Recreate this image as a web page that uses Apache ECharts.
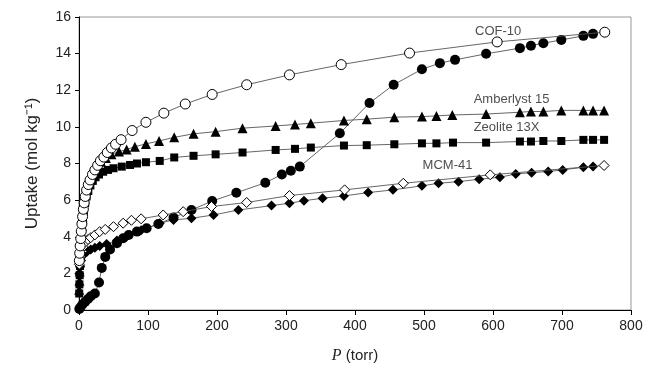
<!DOCTYPE html>
<html>
<head>
<meta charset="utf-8">
<style>html,body{margin:0;padding:0;width:649px;height:377px;background:#fff;overflow:hidden;}#chart{width:649px;height:377px;}</style>
<script src="https://cdn.jsdelivr.net/npm/echarts@6/dist/echarts.min.js"></script>
</head>
<body>
<div id="chart"></div>
<script>
// pressure (torr), uptake (mol/kg)
var cof10Open = [[0.5,2.7],[1,3.1],[1.7,3.5],[2.5,3.9],[3.3,4.3],[4.2,4.7],[5.2,5.1],[6.3,5.5],[7.5,5.85],[9,6.2],[11,6.55],[13.5,6.85],[16,7.1],[19.5,7.4],[23,7.65],[27,7.9],[31,8.15],[36,8.35],[41,8.6],[47,8.85],[53,9.05],[61,9.3],[77,9.8],[97,10.25],[123,10.75],[154,11.25],[193,11.77],[243,12.3],[305,12.84],[380,13.4],[479,14.03],[606,14.64],[762,15.17]];
var cof10Filled = [[0.5,0.05],[2,0.15],[5,0.3],[9,0.45],[13,0.6],[17,0.75],[23,0.9],[29,1.5],[33,2.3],[38,2.9],[45,3.3],[55,3.65],[64,3.92],[72,4.1],[84,4.28],[98,4.46],[115,4.7],[137,5.05],[163,5.46],[193,5.95],[228,6.4],[270,6.95],[294,7.4],[307,7.6],[320,7.83],[378,9.65],[421,11.3],[456,12.3],[497,13.15],[523,13.48],[545,13.66],[590,13.99],[639,14.3],[655,14.43],[673,14.57],[699,14.75],[731,14.97],[745,15.08]];
var amberlyst = [[0.3,1.1],[0.6,1.6],[1,2.1],[1.5,2.6],[2,3.1],[2.5,3.6],[3.2,4.1],[4,4.6],[5,5.1],[6,5.5],[7.5,5.9],[9,6.3],[11,6.7],[14,7.05],[17,7.35],[21,7.6],[26,7.85],[32,8.1],[39,8.3],[47,8.5],[58,8.65],[69,8.76],[81,8.92],[97,9.07],[116,9.23],[138,9.43],[166,9.62],[198,9.74],[237,9.93],[285,10.05],[313,10.13],[336,10.2],[384,10.35],[417,10.42],[457,10.53],[497,10.56],[518,10.6],[541,10.65],[590,10.7],[639,10.8],[655,10.84],[673,10.84],[699,10.9],[731,10.9],[745,10.9],[761,10.9]];
var zeolite = [[0.3,0.9],[0.6,1.4],[1,1.9],[1.5,2.4],[2,2.9],[2.7,3.4],[3.5,3.9],[4.5,4.4],[5.5,4.9],[7,5.4],[9,5.85],[11,6.2],[13.5,6.5],[16.5,6.8],[20,7.05],[24,7.25],[29,7.4],[35,7.55],[42,7.65],[50,7.74],[62,7.83],[74,7.92],[84,8.0],[97,8.07],[117,8.14],[138,8.33],[166,8.42],[198,8.5],[237,8.6],[285,8.74],[313,8.8],[336,8.87],[384,8.98],[417,9.0],[457,9.05],[497,9.1],[518,9.1],[542,9.14],[590,9.14],[639,9.2],[655,9.2],[673,9.23],[699,9.23],[731,9.29],[745,9.29],[761,9.29]];
var mcmOpen = [[0.5,2.5],[2,2.9],[4,3.2],[6,3.45],[9,3.7],[13,3.85],[17,3.95],[23,4.1],[30,4.28],[38,4.4],[50,4.55],[64,4.74],[76,4.9],[90,4.98],[122,5.19],[151,5.37],[192,5.65],[243,5.87],[305,6.25],[385,6.56],[470,6.92],[596,7.38],[761,7.89]];
var mcmFilled = [[0.5,2.0],[1.5,2.4],[3,2.7],[5,2.95],[8,3.1],[12,3.2],[17,3.3],[23,3.4],[30,3.5],[40,3.6],[55,3.8],[70,4.05],[90,4.35],[117,4.74],[137,4.92],[163,5.01],[195,5.19],[231,5.46],[279,5.7],[305,5.83],[326,5.97],[353,6.1],[384,6.23],[419,6.41],[455,6.56],[497,6.78],[521,6.92],[550,7.01],[580,7.14],[610,7.25],[633,7.43],[656,7.5],[680,7.56],[701,7.65],[731,7.8],[745,7.83]];

var curveNames = ['COF-10', 'Amberlyst 15', 'Zeolite 13X', 'MCM-41'];
var curveLabelAt = [[574,15.2],[572,11.5],[572,9.95],[498,7.88]];
var xTicks = [0,100,200,300,400,500,600,700,800];
var yTicks = [0,2,4,6,8,10,12,14,16];

var FONT = '"Liberation Sans", Arial, sans-serif';
var chart = echarts.init(document.getElementById('chart'), null, {renderer: 'canvas'});

function curve(name, data, symbol, size, open) {
  return {
    name: name,
    type: 'line',
    data: data,
    symbol: symbol,
    symbolSize: size,
    showAllSymbol: true,
    animation: false,
    lineStyle: {color: '#555', width: 0.9},
    itemStyle: open
      ? {color: '#fff', borderColor: '#000', borderWidth: 1}
      : {color: '#000', borderColor: '#000', borderWidth: 0},
    z: open ? 3 : 2
  };
}

var series = [
  curve('COF-10 filled', cof10Filled, 'circle', 10, false),
  curve('Amberlyst 15', amberlyst, 'triangle', 10, false),
  curve('Zeolite 13X', zeolite, 'rect', 8, false),
  curve('MCM-41 filled', mcmFilled, 'diamond', 10, false),
  curve('MCM-41 open', mcmOpen, 'diamond', 10, true),
  curve('COF-10 open', cof10Open, 'circle', 10, true)
];

// curve names written next to the curves
series.push({
  type: 'scatter',
  silent: true,
  symbolSize: 0,
  data: curveLabelAt.map(function (p, i) { return {value: p, name: curveNames[i]}; }),
  label: {
    show: true,
    position: 'right',
    distance: 0,
    formatter: function (p) { return p.name; },
    color: '#222',
    fontSize: 13,
    fontFamily: FONT
  },
  z: 5
});

chart.setOption({
  backgroundColor: '#fff',
  animation: false,
  grid: {left: 79, right: 18, top: 17, bottom: 67, show: true, borderColor: '#999', borderWidth: 1},
  xAxis: {
    type: 'value', min: 0, max: 800, interval: 100,
    name: '{i|P} (torr)',
    nameLocation: 'middle', nameGap: 38,
    nameTextStyle: {
      color: '#222', fontSize: 15, fontFamily: FONT,
      rich: {i: {fontStyle: 'italic', fontFamily: '"Liberation Serif", serif', fontSize: 16, color: '#222'}}
    },
    axisLine: {show: true, lineStyle: {color: '#000', width: 1}},
    axisTick: {show: true, inside: false, length: 5, lineStyle: {color: '#000'}},
    axisLabel: {color: '#222', fontSize: 14, fontFamily: FONT, margin: 9,
      formatter: function (v) { return xTicks.indexOf(v) >= 0 ? String(v) : ''; }},
    splitLine: {show: false}
  },
  yAxis: {
    type: 'value', min: 0, max: 16, interval: 2,
    name: 'Uptake (mol kg\u207B\u00B9)',
    nameLocation: 'middle', nameGap: 38, nameRotate: 90,
    nameTextStyle: {color: '#222', fontSize: 17, fontFamily: FONT},
    axisLine: {show: true, lineStyle: {color: '#000', width: 1}},
    axisTick: {show: true, inside: false, length: 4, lineStyle: {color: '#000'}},
    axisLabel: {color: '#222', fontSize: 14, fontFamily: FONT, margin: 8,
      formatter: function (v) { return yTicks.indexOf(v) >= 0 ? String(v) : ''; }},
    splitLine: {show: false}
  },
  series: series
});
</script>
</body>
</html>
